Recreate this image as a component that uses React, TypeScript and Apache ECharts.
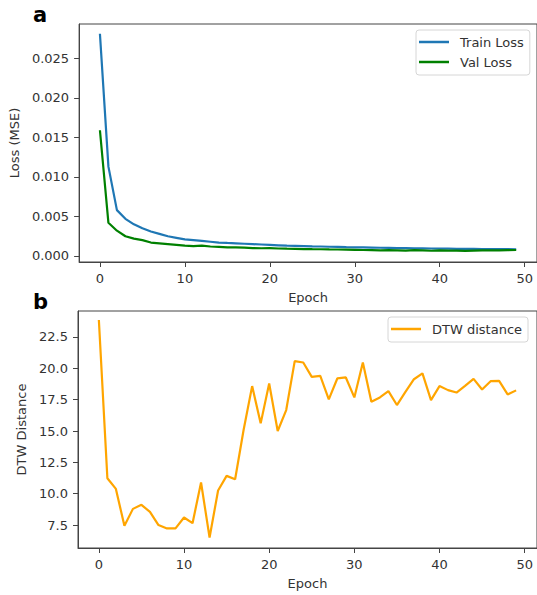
import React, { useEffect, useRef } from "react";
import * as echarts from "echarts";

const epochs: number[] = Array.from({ length: 50 }, (_, i) => i);

const trainLoss: number[] = [
  0.0281, 0.0113, 0.0058, 0.0047, 0.004, 0.0035, 0.0031, 0.0028, 0.0025, 0.0023,
  0.0021, 0.002, 0.0019, 0.0018, 0.0017, 0.00165, 0.0016, 0.00155, 0.0015, 0.00145,
  0.0014, 0.00135, 0.0013, 0.00128, 0.00125, 0.00122, 0.0012, 0.00117, 0.00115, 0.00112,
  0.0011, 0.00108, 0.00106, 0.00104, 0.00102, 0.001, 0.00099, 0.00097, 0.00096, 0.00095,
  0.00093, 0.00092, 0.00091, 0.0009, 0.00089, 0.00088, 0.00087, 0.00086, 0.00086, 0.00085,
];

const valLoss: number[] = [
  0.0159, 0.0042, 0.0032, 0.0025, 0.0022, 0.002, 0.0017, 0.0016, 0.0015, 0.0014,
  0.0013, 0.00125, 0.0013, 0.0012, 0.00115, 0.0011, 0.00108, 0.00105, 0.001, 0.00098,
  0.001, 0.00095, 0.00092, 0.0009, 0.00088, 0.00086, 0.00085, 0.00083, 0.00082, 0.0008,
  0.00078, 0.00076, 0.00075, 0.0007, 0.00074, 0.00072, 0.00068, 0.00073, 0.00071, 0.00066,
  0.0007, 0.00069, 0.00068, 0.00065, 0.00068, 0.0007, 0.00071, 0.00072, 0.00074, 0.00076,
];

const dtwDistance: number[] = [
  23.85, 11.23, 10.38, 7.44, 8.79, 9.11, 8.55, 7.5, 7.23, 7.23,
  8.1, 7.65, 10.89, 6.51, 10.25, 11.42, 11.15, 15.1, 18.58, 15.61,
  18.79, 15.0, 16.67, 20.57, 20.46, 19.32, 19.4, 17.52, 19.19, 19.27,
  17.68, 20.46, 17.33, 17.68, 18.18, 17.07, 18.12, 19.13, 19.59, 17.46,
  18.58, 18.26, 18.07, 18.6, 19.16, 18.31, 18.97, 19.0, 17.92, 18.24,
];

const xTicks: number[] = [0, 10, 20, 30, 40, 50];
const lossTicks: number[] = [0, 0.005, 0.01, 0.015, 0.02, 0.025];
const dtwTicks: number[] = [7.5, 10, 12.5, 15, 17.5, 20, 22.5];

const FONT = "DejaVu Sans";
const TEXT = "#333";
const AXIS = "#444";

export default function App() {
  const ref = useRef<HTMLDivElement>(null);

  useEffect(() => {
    if (!ref.current) return;
    const chart = echarts.init(ref.current, null, { renderer: "svg" });

    const xAxisBase = (gridIndex: number) => ({
      type: "value" as const,
      gridIndex,
      min: -2.45,
      max: 51.45,
      name: "Epoch",
      nameLocation: "middle" as const,
      nameGap: 29,
      nameTextStyle: { fontFamily: FONT, fontSize: 13, color: TEXT },
      axisLine: { show: true, onZero: false, lineStyle: { color: AXIS, width: 1 } },
      axisTick: { show: true, length: 5, customValues: xTicks, lineStyle: { color: AXIS } },
      axisLabel: {
        customValues: xTicks,
        fontFamily: FONT,
        fontSize: 13,
        color: TEXT,
        margin: 10,
        formatter: (v: number) => String(v),
      },
      splitLine: { show: false },
    });

    chart.setOption({
      animation: false,
      backgroundColor: "#fff",
      grid: [
        { left: 78, top: 24, width: 462, height: 238, show: true, borderColor: AXIS, borderWidth: 1, containLabel: false },
        { left: 78, top: 311, width: 462, height: 237, show: true, borderColor: AXIS, borderWidth: 1, containLabel: false },
      ],
      xAxis: [xAxisBase(0), xAxisBase(1)],
      yAxis: [
        {
          type: "value",
          gridIndex: 0,
          min: -0.00076,
          max: 0.02934,
          name: "Loss (MSE)",
          nameLocation: "middle",
          nameGap: 56,
          nameTextStyle: { fontFamily: FONT, fontSize: 13, color: TEXT },
          axisLine: { show: true, onZero: false, lineStyle: { color: AXIS, width: 1 } },
          axisTick: { show: true, length: 5, customValues: lossTicks, lineStyle: { color: AXIS } },
          axisLabel: {
            customValues: lossTicks,
            fontFamily: FONT,
            fontSize: 13,
            color: TEXT,
            margin: 10,
            formatter: (v: number) => v.toFixed(3),
          },
          splitLine: { show: false },
        },
        {
          type: "value",
          gridIndex: 1,
          min: 5.67,
          max: 24.57,
          name: "DTW Distance",
          nameLocation: "middle",
          nameGap: 49,
          nameTextStyle: { fontFamily: FONT, fontSize: 13, color: TEXT },
          axisLine: { show: true, onZero: false, lineStyle: { color: AXIS, width: 1 } },
          axisTick: { show: true, length: 5, customValues: dtwTicks, lineStyle: { color: AXIS } },
          axisLabel: {
            customValues: dtwTicks,
            fontFamily: FONT,
            fontSize: 13,
            color: TEXT,
            margin: 10,
            formatter: (v: number) => v.toFixed(1),
          },
          splitLine: { show: false },
        },
      ],
      legend: [
        {
          data: ["Train Loss", "Val Loss"],
          orient: "vertical",
          left: 416,
          top: 30,
          padding: [5, 6, 6, 3],
          itemGap: 6,
          itemWidth: 30,
          itemHeight: 2.5,
          icon: "rect",
          borderColor: "#d6d6d6",
          borderWidth: 1,
          borderRadius: 3,
          backgroundColor: "rgba(255,255,255,0.8)",
          textStyle: { fontFamily: FONT, fontSize: 13, color: TEXT, lineHeight: 14, padding: [0, 0, 0, 6] },
        },
        {
          data: ["DTW distance"],
          orient: "vertical",
          left: 388,
          top: 317,
          padding: [5, 6, 6, 3],
          itemWidth: 30,
          itemHeight: 2.5,
          icon: "rect",
          borderColor: "#d6d6d6",
          borderWidth: 1,
          borderRadius: 3,
          backgroundColor: "rgba(255,255,255,0.8)",
          textStyle: { fontFamily: FONT, fontSize: 13, color: TEXT, lineHeight: 14, padding: [0, 0, 0, 6] },
        },
      ],
      graphic: [
        {
          type: "text",
          left: 33,
          top: 4,
          style: { text: "a", fontFamily: FONT, fontWeight: "bold", fontSize: 21, fill: "#000" },
        },
        {
          type: "text",
          left: 33,
          top: 291,
          style: { text: "b", fontFamily: FONT, fontWeight: "bold", fontSize: 21, fill: "#000" },
        },
      ],
      series: [
        {
          name: "Train Loss",
          type: "line",
          xAxisIndex: 0,
          yAxisIndex: 0,
          data: epochs.map((e, i) => [e, trainLoss[i]]),
          showSymbol: false,
          color: "#1f77b4",
          lineStyle: { width: 2.2, color: "#1f77b4" },
        },
        {
          name: "Val Loss",
          type: "line",
          xAxisIndex: 0,
          yAxisIndex: 0,
          data: epochs.map((e, i) => [e, valLoss[i]]),
          showSymbol: false,
          color: "#008000",
          lineStyle: { width: 2.2, color: "#008000" },
        },
        {
          name: "DTW distance",
          type: "line",
          xAxisIndex: 1,
          yAxisIndex: 1,
          data: epochs.map((e, i) => [e, dtwDistance[i]]),
          showSymbol: false,
          color: "#ffa500",
          lineStyle: { width: 2.2, color: "#ffa500" },
        },
      ],
    });

    return () => chart.dispose();
  }, []);

  return (
    <div
      ref={ref}
      style={{ position: "absolute", left: 0, top: 0, width: 537, height: 595, background: "#fff" }}
    />
  );
}
